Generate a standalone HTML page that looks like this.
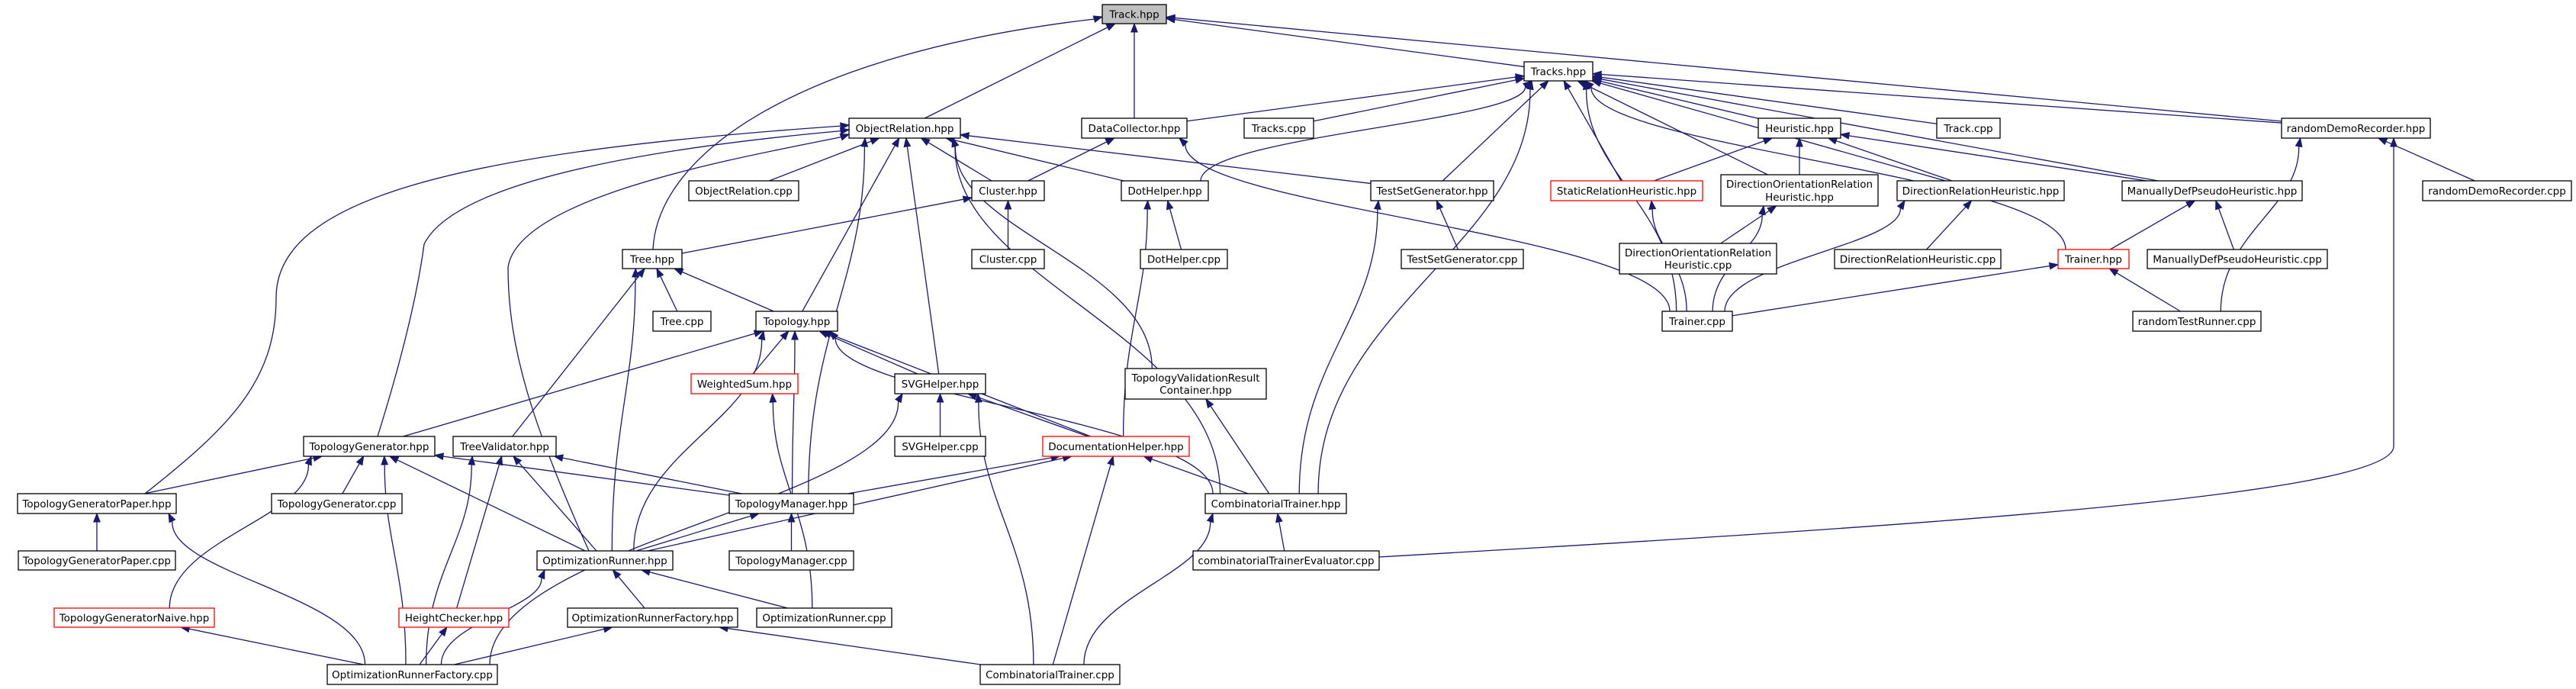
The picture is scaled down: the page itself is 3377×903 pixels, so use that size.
<!DOCTYPE html>
<html><head><meta charset="utf-8"><style>
html,body{margin:0;padding:0;background:#fff;}
svg{display:block;}
text{font-family:"DejaVu Sans","Liberation Sans",sans-serif;font-size:13.5px;fill:#000;}
</style></head><body>
<svg id="g" width="3377" height="903" viewBox="0 0 3377 903" xmlns="http://www.w3.org/2000/svg">
<g id="edges"></g>
<g id="nodes" stroke-width="1.3">
<g id="track"><rect x="1445" y="6" width="84" height="25" fill="#bfbfbf" stroke="#000"/><text x="1487" y="23.5" text-anchor="middle">Track.hpp</text></g>
<g id="tracks"><rect x="1998" y="81" width="90" height="25" fill="#fff" stroke="#000"/><text x="2043" y="98.5" text-anchor="middle">Tracks.hpp</text></g>
<g id="objrel"><rect x="1113" y="155" width="146" height="26" fill="#fff" stroke="#000"/><text x="1186" y="173" text-anchor="middle">ObjectRelation.hpp</text></g>
<g id="datacol"><rect x="1418" y="155" width="138" height="26" fill="#fff" stroke="#000"/><text x="1487" y="173" text-anchor="middle">DataCollector.hpp</text></g>
<g id="trackscpp"><rect x="1631" y="155" width="91" height="26" fill="#fff" stroke="#000"/><text x="1676.5" y="173" text-anchor="middle">Tracks.cpp</text></g>
<g id="heur"><rect x="2305" y="155" width="108" height="26" fill="#fff" stroke="#000"/><text x="2359" y="173" text-anchor="middle">Heuristic.hpp</text></g>
<g id="trackcpp"><rect x="2539" y="155" width="83" height="26" fill="#fff" stroke="#000"/><text x="2580.5" y="173" text-anchor="middle">Track.cpp</text></g>
<g id="rdrh"><rect x="2991" y="155" width="195" height="26" fill="#fff" stroke="#000"/><text x="3088.5" y="173" text-anchor="middle">randomDemoRecorder.hpp</text></g>
<g id="objrelcpp"><rect x="903" y="237" width="144" height="26" fill="#fff" stroke="#000"/><text x="975" y="255" text-anchor="middle">ObjectRelation.cpp</text></g>
<g id="cluster"><rect x="1274" y="237" width="95" height="26" fill="#fff" stroke="#000"/><text x="1321.5" y="255" text-anchor="middle">Cluster.hpp</text></g>
<g id="dothelper"><rect x="1470" y="237" width="114" height="26" fill="#fff" stroke="#000"/><text x="1527" y="255" text-anchor="middle">DotHelper.hpp</text></g>
<g id="tsg"><rect x="1797" y="237" width="161" height="26" fill="#fff" stroke="#000"/><text x="1877.5" y="255" text-anchor="middle">TestSetGenerator.hpp</text></g>
<g id="static"><rect x="2033" y="237" width="199" height="26" fill="#fff" stroke="#ff0000"/><text x="2132.5" y="255" text-anchor="middle">StaticRelationHeuristic.hpp</text></g>
<g id="dorh"><rect x="2256" y="229" width="206" height="41" fill="#fff" stroke="#000"/><text x="2359" y="246" text-anchor="middle">DirectionOrientationRelation</text><text x="2359" y="263" text-anchor="middle">Heuristic.hpp</text></g>
<g id="drh"><rect x="2487" y="237" width="219" height="26" fill="#fff" stroke="#000"/><text x="2596.5" y="255" text-anchor="middle">DirectionRelationHeuristic.hpp</text></g>
<g id="mdph"><rect x="2782" y="237" width="236" height="26" fill="#fff" stroke="#000"/><text x="2900" y="255" text-anchor="middle">ManuallyDefPseudoHeuristic.hpp</text></g>
<g id="rdrcpp"><rect x="3176" y="237" width="195" height="26" fill="#fff" stroke="#000"/><text x="3273.5" y="255" text-anchor="middle">randomDemoRecorder.cpp</text></g>
<g id="tree"><rect x="816" y="327" width="78" height="25" fill="#fff" stroke="#000"/><text x="855" y="344.5" text-anchor="middle">Tree.hpp</text></g>
<g id="clustercpp"><rect x="1274" y="327" width="95" height="25" fill="#fff" stroke="#000"/><text x="1321.5" y="344.5" text-anchor="middle">Cluster.cpp</text></g>
<g id="dothelpercpp"><rect x="1495" y="327" width="114" height="25" fill="#fff" stroke="#000"/><text x="1552" y="344.5" text-anchor="middle">DotHelper.cpp</text></g>
<g id="tsgcpp"><rect x="1837" y="327" width="160" height="25" fill="#fff" stroke="#000"/><text x="1917" y="344.5" text-anchor="middle">TestSetGenerator.cpp</text></g>
<g id="dorhcpp"><rect x="2123" y="319" width="206" height="40" fill="#fff" stroke="#000"/><text x="2226" y="336" text-anchor="middle">DirectionOrientationRelation</text><text x="2226" y="352" text-anchor="middle">Heuristic.cpp</text></g>
<g id="drhcpp"><rect x="2405" y="327" width="218" height="25" fill="#fff" stroke="#000"/><text x="2514" y="344.5" text-anchor="middle">DirectionRelationHeuristic.cpp</text></g>
<g id="trainerh"><rect x="2698" y="327" width="93" height="25" fill="#fff" stroke="#ff0000"/><text x="2744.5" y="344.5" text-anchor="middle">Trainer.hpp</text></g>
<g id="mdphcpp"><rect x="2815" y="327" width="236" height="25" fill="#fff" stroke="#000"/><text x="2933" y="344.5" text-anchor="middle">ManuallyDefPseudoHeuristic.cpp</text></g>
<g id="treecpp"><rect x="856" y="408" width="76" height="26" fill="#fff" stroke="#000"/><text x="894" y="426" text-anchor="middle">Tree.cpp</text></g>
<g id="topology"><rect x="991" y="408" width="107" height="26" fill="#fff" stroke="#000"/><text x="1044.5" y="426" text-anchor="middle">Topology.hpp</text></g>
<g id="trainercpp"><rect x="2179" y="408" width="92" height="26" fill="#fff" stroke="#000"/><text x="2225" y="426" text-anchor="middle">Trainer.cpp</text></g>
<g id="rtr"><rect x="2796" y="408" width="168" height="26" fill="#fff" stroke="#000"/><text x="2880" y="426" text-anchor="middle">randomTestRunner.cpp</text></g>
<g id="weighted"><rect x="906" y="490" width="140" height="26" fill="#fff" stroke="#ff0000"/><text x="976" y="508" text-anchor="middle">WeightedSum.hpp</text></g>
<g id="svgh"><rect x="1173" y="490" width="119" height="26" fill="#fff" stroke="#000"/><text x="1232.5" y="508" text-anchor="middle">SVGHelper.hpp</text></g>
<g id="tvrc"><rect x="1475" y="483" width="185" height="40" fill="#fff" stroke="#000"/><text x="1567.5" y="500" text-anchor="middle">TopologyValidationResult</text><text x="1567.5" y="516" text-anchor="middle">Container.hpp</text></g>
<g id="topgen"><rect x="398" y="572" width="172" height="26" fill="#fff" stroke="#000"/><text x="484" y="590" text-anchor="middle">TopologyGenerator.hpp</text></g>
<g id="treeval"><rect x="594" y="572" width="135" height="26" fill="#fff" stroke="#000"/><text x="661.5" y="590" text-anchor="middle">TreeValidator.hpp</text></g>
<g id="svgcpp"><rect x="1173" y="572" width="119" height="26" fill="#fff" stroke="#000"/><text x="1232.5" y="590" text-anchor="middle">SVGHelper.cpp</text></g>
<g id="doch"><rect x="1367" y="572" width="192" height="26" fill="#fff" stroke="#ff0000"/><text x="1463" y="590" text-anchor="middle">DocumentationHelper.hpp</text></g>
<g id="tgp"><rect x="23" y="647" width="208" height="26" fill="#fff" stroke="#000"/><text x="127" y="665" text-anchor="middle">TopologyGeneratorPaper.hpp</text></g>
<g id="topgencpp"><rect x="356" y="647" width="171" height="26" fill="#fff" stroke="#000"/><text x="441.5" y="665" text-anchor="middle">TopologyGenerator.cpp</text></g>
<g id="topman"><rect x="956" y="647" width="163" height="26" fill="#fff" stroke="#000"/><text x="1037.5" y="665" text-anchor="middle">TopologyManager.hpp</text></g>
<g id="cth"><rect x="1580" y="647" width="185" height="26" fill="#fff" stroke="#000"/><text x="1672.5" y="665" text-anchor="middle">CombinatorialTrainer.hpp</text></g>
<g id="tgpcpp"><rect x="24" y="722" width="206" height="25" fill="#fff" stroke="#000"/><text x="127" y="739.5" text-anchor="middle">TopologyGeneratorPaper.cpp</text></g>
<g id="optr"><rect x="704" y="722" width="178" height="25" fill="#fff" stroke="#000"/><text x="793" y="739.5" text-anchor="middle">OptimizationRunner.hpp</text></g>
<g id="topmancpp"><rect x="956" y="722" width="163" height="25" fill="#fff" stroke="#000"/><text x="1037.5" y="739.5" text-anchor="middle">TopologyManager.cpp</text></g>
<g id="cteval"><rect x="1564" y="722" width="244" height="25" fill="#fff" stroke="#000"/><text x="1686" y="739.5" text-anchor="middle">combinatorialTrainerEvaluator.cpp</text></g>
<g id="tgn"><rect x="71" y="797" width="210" height="25" fill="#fff" stroke="#ff0000"/><text x="176" y="814.5" text-anchor="middle">TopologyGeneratorNaive.hpp</text></g>
<g id="height"><rect x="523" y="797" width="144" height="25" fill="#fff" stroke="#ff0000"/><text x="595" y="814.5" text-anchor="middle">HeightChecker.hpp</text></g>
<g id="orfh"><rect x="744" y="797" width="223" height="25" fill="#fff" stroke="#000"/><text x="855.5" y="814.5" text-anchor="middle">OptimizationRunnerFactory.hpp</text></g>
<g id="orcpp"><rect x="992" y="797" width="177" height="25" fill="#fff" stroke="#000"/><text x="1080.5" y="814.5" text-anchor="middle">OptimizationRunner.cpp</text></g>
<g id="orfcpp"><rect x="429" y="871" width="223" height="26" fill="#fff" stroke="#000"/><text x="540.5" y="889" text-anchor="middle">OptimizationRunnerFactory.cpp</text></g>
<g id="ctcpp"><rect x="1285" y="871" width="183" height="26" fill="#fff" stroke="#000"/><text x="1376.5" y="889" text-anchor="middle">CombinatorialTrainer.cpp</text></g>
</g>
</svg>
<script>
(function(){
var C="#191970",NS="http://www.w3.org/2000/svg";
function box(id){var r=document.querySelector('#'+id+' rect');var x=+r.getAttribute('x'),y=+r.getAttribute('y'),w=+r.getAttribute('width'),h=+r.getAttribute('height');return {x1:x,y1:y,x2:x+w,y2:y+h,cx:x+w/2,cy:y+h/2,w:w,h:h};}
var eg=document.getElementById('edges');
function el(t,a){var e=document.createElementNS(NS,t);for(var k in a)e.setAttribute(k,a[k]);eg.appendChild(e);return e;}
function arrow(x,y,dx,dy){var L=Math.hypot(dx,dy)||1;dx/=L;dy/=L;var l=11,w=4.2;var bx=x-dx*l,by=y-dy*l;
el('polygon',{points:x+','+y+' '+(bx-dy*w)+','+(by+dx*w)+' '+(bx+dy*w)+','+(by-dx*w),fill:C,stroke:C,'stroke-width':1});return [bx,by];}
function clip(b,tx,ty){var dx=tx-b.cx,dy=ty-b.cy;var sx=dx?(b.w/2)/Math.abs(dx):1e9,sy=dy?(b.h/2)/Math.abs(dy):1e9;var s=Math.min(sx,sy);return [b.cx+dx*s,b.cy+dy*s];}
function path(d){el('path',{d:d,fill:'none',stroke:C,'stroke-width':1.3});}
var E="objrel>track datacol>track tracks>track rdrh>track datacol>tracks trackscpp>tracks dothelper>tracks~ cth>tracks~ tsg>tracks trainercpp>tracks~ static>tracks dorh>tracks heur>tracks drh>tracks trackcpp>tracks mdph>tracks trainerh>tracks~ rdrh>tracks objrelcpp>objrel cluster>objrel dothelper>objrel tsg>objrel topology>objrel svgh>objrel topman>objrel~ cth>objrel~ tvrc>objrel~ cluster>datacol trainercpp>datacol~ clustercpp>cluster tree>cluster dothelpercpp>dothelper doch>dothelper~ tsgcpp>tsg cth>tsg~ static>heur dorh>heur drh>heur mdph>heur trainercpp>static~ dorhcpp>dorh trainercpp>dorh~ drhcpp>drh trainercpp>drh~ trainerh>mdph mdphcpp>mdph trainercpp>trainerh rtr>trainerh rdrcpp>rdrh rtr>rdrh~ treecpp>tree topology>tree treeval>tree optr>tree~ weighted>topology svgh>topology doch>topology cth>topology~ topgen>topology optr>topology~ topman>topology~ orcpp>weighted~ svgcpp>svgh doch>svgh ctcpp>svgh~ orfcpp>svgh~ topman>doch optr>doch cth>doch ctcpp>doch cth>tvrc tgp>topgen topgencpp>topgen topman>topgen optr>topgen tgn>topgen~ orfcpp>topgen~ topman>treeval optr>treeval height>treeval orfcpp>treeval~ tgpcpp>tgp orfcpp>tgp~ topmancpp>topman optr>topman orfh>optr orcpp>optr orfcpp>optr~ orfcpp>tgn orfcpp>height orfcpp>orfh ctcpp>orfh cteval>cth ctcpp>cth~".split(' ');
E.forEach(function(s){var cur=s.slice(-1)=='~';if(cur)s=s.slice(0,-1);var p=s.split('>'),c=box(p[0]),q=box(p[1]);
 if(cur){var sx=Math.max(c.x1+10,Math.min(c.x2-10,c.cx+(q.cx-c.cx)*0.15)),sy=c.y1;var px=Math.max(q.x1+10,Math.min(q.x2-10,q.cx+(c.cx-q.cx)*0.35)),py=q.y2;
  var dy=sy-py;var b=arrow(px,py,(px-sx)*0.15,-dy*0.4);
  path('M'+sx+','+sy+' C'+sx+','+(sy-dy*0.45)+' '+px+','+(py+dy*0.4)+' '+b[0]+','+b[1]);}
 else{var a=clip(c,q.cx,q.cy),t=clip(q,c.cx,c.cy);var b=arrow(t[0],t[1],t[0]-a[0],t[1]-a[1]);
  path('M'+a[0]+','+a[1]+' L'+b[0]+','+b[1]);}
});
var b;
b=arrow(3138,181,0,-1);
path('M1808,730 C2500,690 3138,650 3138,585 L3138,'+b[1]);
b=arrow(1445,22,1,-0.28);
path('M856,327 C862,200 1050,70 '+b[0]+','+b[1]);
b=arrow(1113,164,1,-0.1);
path('M190,647 C300,560 362,500 362,390 C362,260 600,200 '+b[0]+','+b[1]);
b=arrow(1113,170,1,-0.15);
path('M495,572 C530,460 548,380 556,320 C600,230 900,190 '+b[0]+','+b[1]);
b=arrow(1113,176,1,-0.35);
path('M772,722 C700,560 666,460 666,350 C680,260 950,210 '+b[0]+','+b[1]);
})();
</script>
</body></html>
